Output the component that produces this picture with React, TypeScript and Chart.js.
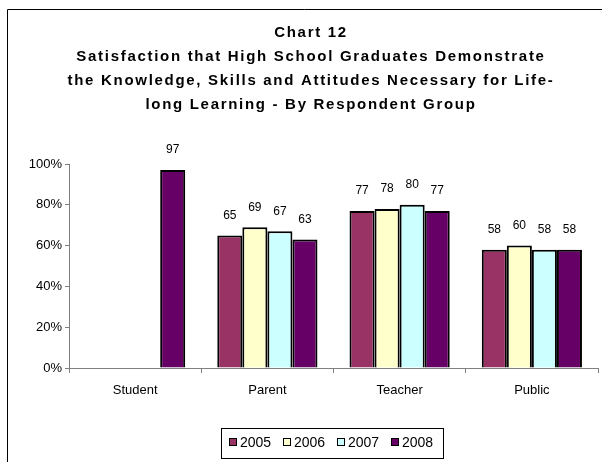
import React, { useEffect, useRef } from "react";
import { Chart, registerables } from "chart.js";

Chart.register(...registerables);

const categories = ["Student", "Parent", "Teacher", "Public"];
const seriesLabels = ["2005", "2006", "2007", "2008"];
const values2005: (number | null)[] = [null, 65, 77, 58];
const values2006: (number | null)[] = [null, 69, 78, 60];
const values2007: (number | null)[] = [null, 67, 80, 58];
const values2008: (number | null)[] = [97, 63, 77, 58];
const seriesColors = ["#993366", "#FFFFCC", "#CCFFFF", "#660066"];
const yTicks = [0, 20, 40, 60, 80, 100];
const titleLines = [
  "Chart 12",
  "Satisfaction that High School Graduates Demonstrate",
  "the Knowledge, Skills and Attitudes Necessary for Life-",
  "long Learning - By Respondent Group",
];

const FONT = "'Liberation Sans', Arial, Helvetica, sans-serif";

const decorPlugin = {
  id: "decor",
  beforeDraw(chart: any) {
    const ctx = chart.ctx;
    ctx.save();
    ctx.fillStyle = "#ffffff";
    ctx.fillRect(0, 0, chart.width, chart.height);
    // frame
    ctx.strokeStyle = "#000000";
    ctx.lineWidth = 1;
    ctx.beginPath();
    ctx.moveTo(7.5, 462);
    ctx.lineTo(7.5, 9.5);
    ctx.lineTo(602, 9.5);
    ctx.stroke();
    ctx.restore();
  },
  afterDraw(chart: any) {
    const ctx = chart.ctx;
    // title
    ctx.save();
    ctx.fillStyle = "#000000";
    ctx.font = `bold 15px ${FONT}`;
    (ctx as any).letterSpacing = "1.7px";
    ctx.textAlign = "center";
    ctx.textBaseline = "middle";
    titleLines.forEach((line, i) => {
      ctx.fillText(line, 311, 33 + i * 24);
    });
    ctx.restore();

    // data labels
    ctx.save();
    ctx.fillStyle = "#000000";
    ctx.font = `12px ${FONT}`;
    ctx.textAlign = "center";
    ctx.textBaseline = "middle";
    chart.data.datasets.forEach((ds: any, di: number) => {
      const meta = chart.getDatasetMeta(di);
      meta.data.forEach((bar: any, j: number) => {
        const v = ds.data[j];
        if (v === null || v === undefined) return;
        ctx.fillText(String(v), bar.x, bar.y - 20);
      });
    });
    ctx.restore();

    // legend
    ctx.save();
    ctx.strokeStyle = "#000000";
    ctx.lineWidth = 1;
    ctx.strokeRect(221.5, 428.5, 222, 30);
    ctx.font = `14px ${FONT}`;
    ctx.textAlign = "left";
    ctx.textBaseline = "middle";
    chart.data.datasets.forEach((ds: any, i: number) => {
      const x = 229 + i * 54;
      ctx.fillStyle = ds.backgroundColor;
      ctx.fillRect(x, 438, 7, 7);
      ctx.strokeRect(x + 0.5, 438.5, 7, 7);
      ctx.fillStyle = "#000000";
      ctx.fillText(ds.label, x + 11, 443);
    });
    ctx.restore();
  },
};

export default function App() {
  const ref = useRef<HTMLCanvasElement | null>(null);
  useEffect(() => {
    document.body.style.margin = "0";
    if (!ref.current) return;
    const allValues = [values2005, values2006, values2007, values2008];
    const chart = new Chart(ref.current, {
      type: "bar",
      data: {
        labels: categories,
        datasets: allValues.map((vals, i) => ({
          label: seriesLabels[i],
          data: vals,
          backgroundColor: seriesColors[i],
          borderColor: "#000000",
          borderWidth: 2,
          categoryPercentage: 100 / 132,
          barPercentage: 1,
        })),
      },
      options: {
        responsive: false,
        animation: false,
        devicePixelRatio: 1,
        layout: { padding: { left: 0, right: 7, top: 164, bottom: 64 } },
        plugins: {
          legend: { display: false },
          title: { display: false },
          tooltip: { enabled: false },
        },
        scales: {
          x: {
            grid: {
              offset: true,
              drawOnChartArea: false,
              drawTicks: true,
              tickLength: 5,
              color: "#808080",
            },
            border: { color: "#808080", width: 1 },
            ticks: {
              color: "#000000",
              font: { family: FONT, size: 13 },
              padding: 10,
              maxRotation: 0,
            },
            afterFit: (scale: any) => {
              scale.height = 30;
            },
          },
          y: {
            min: 0,
            max: 100,
            afterBuildTicks: (scale: any) => {
              scale.ticks = yTicks.map((v) => ({ value: v }));
            },
            grid: {
              drawOnChartArea: false,
              drawTicks: true,
              tickLength: 4,
              color: "#808080",
            },
            border: { color: "#808080", width: 1 },
            ticks: {
              color: "#000000",
              font: { family: FONT, size: 13 },
              padding: 3,
              callback: (v: any) => `${v}%`,
            },
            afterFit: (scale: any) => {
              scale.width = 69;
            },
          },
        },
      },
      plugins: [decorPlugin],
    });
    return () => chart.destroy();
  }, []);
  return (
    <div style={{ position: "fixed", left: 0, top: 0, width: 605, height: 462 }}>
      <canvas ref={ref} width={605} height={462} style={{ display: "block" }} />
    </div>
  );
}
